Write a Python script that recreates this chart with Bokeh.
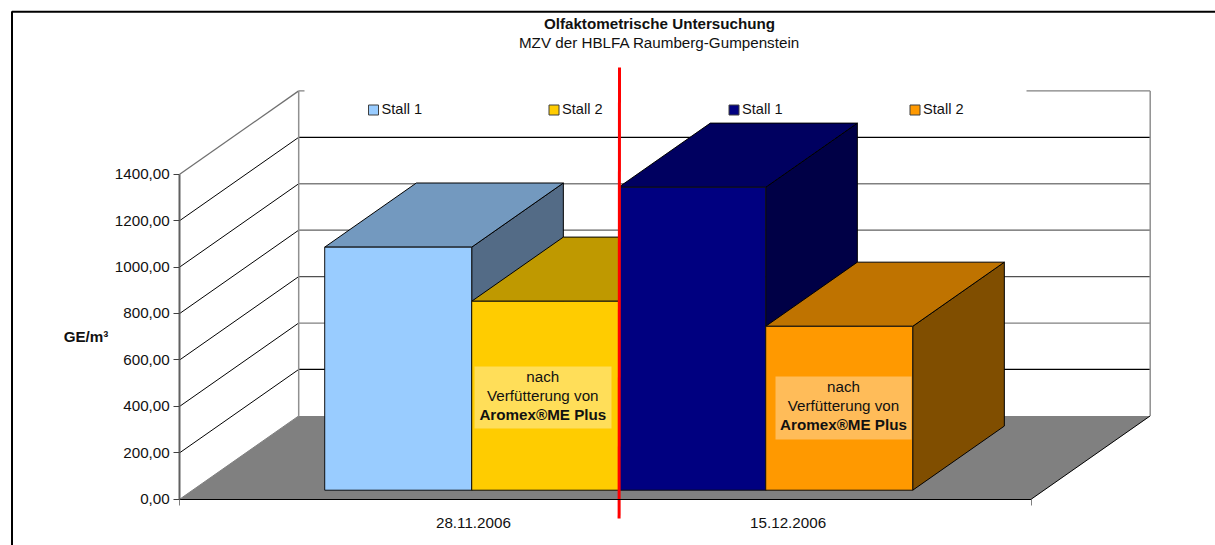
from bokeh.plotting import figure
from bokeh.models import Range1d, LinearAxis, FixedTicker
from bokeh.core.properties import value
from bokeh.embed import file_html
from bokeh.resources import INLINE

# ---- data
series = ["Stall 1", "Stall 2", "Stall 1", "Stall 2"]
bar_values = [1047, 814, 1305, 706]
front_colors = ["#99CCFF", "#FFCC00", "#000080", "#FF9900"]
top_colors = ["#7399BF", "#BF9900", "#000060", "#BF7300"]
side_colors = ["#536B86", "#806600", "#000046", "#804E00"]
y_ticks = [0, 200, 400, 600, 800, 1000, 1200, 1400]
y_labels = ["0,00", "200,00", "400,00", "600,00", "800,00", "1000,00", "1200,00", "1400,00"]
grid_colors = ["#808080", "#000000", "#808080", "#505050", "#606060", "#808080", "#000000", "#808080"]
date_labels = ["28.11.2006", "15.12.2006"]
note_lines = ["nach", "Verfütterung von", "Aromex®ME Plus"]
title_text = "Olfaktometrische Untersuchung"
subtitle_text = "MZV der HBLFA Raumberg-Gumpenstein"
y_title = "GE/m³"

# ---- layout of the 3D projection (page pixels)
W, H = 1215, 545
Y0 = 498.7            # page y of value 0 on the front plane
K = 325.0 / 1400      # pixels per value unit
X0, X1 = 179.2, 1030.7  # front edge of floor
DX, DY = 119.0, 83.3  # depth shift of back wall
BAR_W = 147.0
GAP = 0.899           # space before first bar, in bar widths
D0, D1 = 0.108, 0.878 # depth range of the bars
FONT = "Liberation Sans"
FS = "15.2px"
INK = "#111111"


def sy(py):
    return (Y0 - py) / K


DV = DY / K


def proj(i, v, d):
    """series slot i, value v, depth d -> plot coordinates"""
    return X0 + (i + GAP) * BAR_W + d * DX, v + d * DV


p = figure(width=W, height=H, x_range=Range1d(0, W), y_range=Range1d(sy(H), sy(0)),
           x_axis_type=None, y_axis_type=None, toolbar_location=None,
           output_backend="svg", min_border=0, outline_line_color=None,
           background_fill_color="white")
p.grid.visible = False

# frame of the chart object
p.line([11.5, 11.5, W], [sy(H), sy(11.2), sy(11.2)], line_color="black", line_width=2)

# floor
p.patch([X0, X0 + DX, X1 + DX, X1], [0, DV, DV, 0], fill_color="#808080", line_color=None)
p.line([X1, X1 + DX], [0, DV], line_color="black", line_width=1)
p.line([X0, X0 + DX], [0, DV], line_color="#808080", line_width=1)

# grid on the side and back walls
for t, c in zip(y_ticks[1:], grid_colors[1:]):
    top_edge = t == y_ticks[-1]
    p.line([X0, X0 + DX], [t, t + DV], line_color="#707070" if top_edge else "#000000",
           line_width=1.3 if top_edge else 1)
    p.line([X0 + DX, X1 + DX], [t + DV, t + DV], line_color=c, line_width=1.3)
p.line([X0 + DX, X0 + DX], [DV, 1400 + DV], line_color="#909090", line_width=1.5)
p.line([X1 + DX, X1 + DX], [DV, 1400 + DV], line_color="#909090", line_width=1.5)

# the white legend box hides the middle of the upper wall edge
p.quad(left=304, right=1026, bottom=sy(130), top=sy(85), fill_color="white", line_color=None)

# bars, left to right
for i, v in enumerate(bar_values):
    a = proj(i, 0, D0); b = proj(i + 1, 0, D0)
    c = proj(i + 1, v, D0); e = proj(i, v, D0)
    f = proj(i, v, D1); g = proj(i + 1, v, D1); h = proj(i + 1, 0, D1)
    p.patch([c[0], g[0], h[0], b[0]], [c[1], g[1], h[1], b[1]], fill_color=side_colors[i],
            line_color="black", line_width=1)
    p.patch([e[0], f[0], g[0], c[0]], [e[1], f[1], g[1], c[1]], fill_color=top_colors[i],
            line_color="black", line_width=1)
    p.patch([a[0], b[0], c[0], e[0]], [a[1], b[1], c[1], e[1]], fill_color=front_colors[i],
            line_color="#101010", line_width=1)

# note boxes on the two Stall 2 bars
for left, right, top, bottom, cx, ys in [
    (474, 611, 366, 428, 542.3, (375.7, 395, 414)),
    (775, 911, 376, 439, 843, (386, 405, 424)),
]:
    p.quad(left=left, right=right, bottom=sy(bottom), top=sy(top),
           fill_color="white", fill_alpha=0.35, line_color=None)
    for j, (line, yy) in enumerate(zip(note_lines, ys)):
        p.text([cx], [sy(yy)], text=[line], text_font=value(FONT), text_font_size=FS,
               text_align="center", text_baseline="middle", text_color=INK,
               text_font_style="bold" if j == 2 else "normal")

# legend
legend_x = [368, 548.5, 728.5, 909.5]
for name, col, lx in zip(series, front_colors, legend_x):
    p.quad(left=lx, right=lx + 10, bottom=sy(114.5), top=sy(104.5),
           fill_color=col, line_color="#404040", line_width=1)
    p.text([lx + 13], [sy(108)], text=[name], text_font=value(FONT), text_font_size="14.6px",
           text_align="left", text_baseline="middle", text_color=INK)

# titles
p.text([659], [sy(23)], text=[title_text], text_font=value(FONT), text_font_size=FS,
       text_font_style="bold", text_align="center", text_baseline="middle", text_color=INK)
p.text([659], [sy(42)], text=[subtitle_text], text_font=value(FONT), text_font_size=FS,
       text_align="center", text_baseline="middle", text_color=INK)
p.text([85.5], [sy(336)], text=[y_title], text_font=value(FONT), text_font_size=FS,
       text_font_style="bold", text_align="center", text_baseline="middle", text_color=INK)

# real axes, fixed at the front-left corner of the box
yax = LinearAxis(fixed_location=X0, ticker=FixedTicker(ticks=y_ticks), bounds=(0, 1400),
                 major_label_overrides=dict(zip(y_ticks, y_labels)),
                 major_label_text_font=FONT, major_label_text_font_size=FS,
                 major_label_text_color=INK, major_label_standoff=4,
                 axis_line_color="#606060", axis_line_width=2,
                 major_tick_line_color="#404040", major_tick_out=6, major_tick_in=0,
                 minor_tick_line_color=None)
p.add_layout(yax, "left")

label_x = [472.9, 787.6]
xax = LinearAxis(fixed_location=0, bounds=(X0, X1),
                 ticker=FixedTicker(ticks=label_x, minor_ticks=[X0, X1]),
                 major_label_overrides=dict(zip(label_x, date_labels)),
                 major_label_text_font=FONT, major_label_text_font_size=FS,
                 major_label_text_color=INK, major_label_standoff=13,
                 axis_line_color="black", axis_line_width=1.2,
                 major_tick_line_color=None, major_tick_out=0, major_tick_in=0,
                 minor_tick_line_color="#808080", minor_tick_out=6, minor_tick_in=0)
p.add_layout(xax, "below")

# red separator, on top of everything
p.line([618.6, 619.0], [sy(518), sy(67)], line_color="#FF0000", line_width=3)

open("out.html", "w").write(file_html(p, INLINE))
